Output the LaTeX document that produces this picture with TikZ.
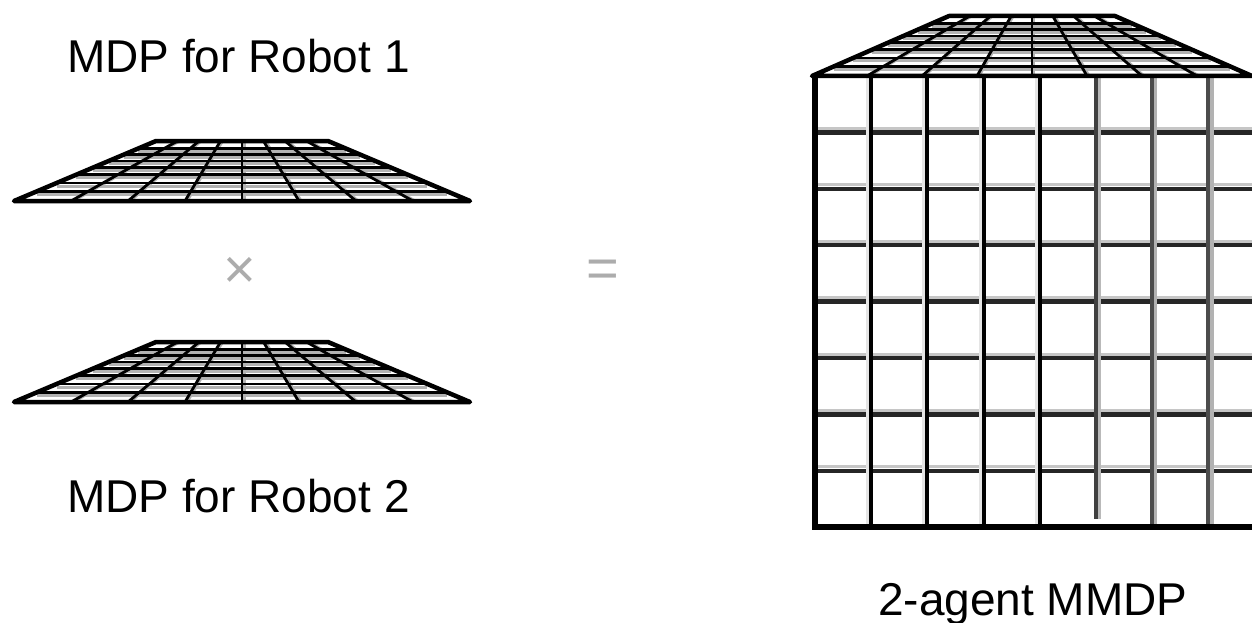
\documentclass[tikz,border=0pt]{standalone}
\usepackage{fontspec}
\setmainfont{Liberation Sans}
\usepackage{tikz}
\usetikzlibrary{positioning}

\tikzset{
  gridline/.style={line width=2.8pt, black},
  gridshade/.style={line width=3pt, gray!60},
  edgeline/.style={line width=4.5pt, black, line join=round},
  bigrow/.style={line width=4.5pt, black!85},
  bigshade/.style={line width=3pt, gray!45},
  bigcol/.style={line width=4pt, black},
  bigedge/.style={line width=6pt, black},
  label/.style={font=\fontsize{46}{52}\selectfont, anchor=base west, inner sep=0pt},
  opsym/.style={font=\fontsize{56}{60}\selectfont, text=gray!65, inner sep=0pt},
  pics/flatgrid/.style={code={
    % gray bands under the rows
    \foreach \f in {0.164,0.30,0.437,0.557,0.667,0.776,0.874}
      \draw[gridshade] ({-228+142*\f},{-60*\f+3}) -- ({228-142*\f},{-60*\f+3});
    \foreach \i in {1,...,7}
      \draw[gridshade] ({-226+57*\i},0) -- ({-84+21.5*\i},-60);
    % rows and columns
    \foreach \f in {0.164,0.30,0.437,0.557,0.667,0.776,0.874}
      \draw[gridline] ({-228+142*\f},{-60*\f}) -- ({228-142*\f},{-60*\f});
    \foreach \i in {1,...,7}
      \draw[gridline] ({-228+57*\i},0) -- ({-86+21.5*\i},-60);
    % outline
    \draw[edgeline] (-228,0) -- (-86,-60) -- (86,-60) -- (228,0) -- cycle;
  }}
}

\begin{document}
\begin{tikzpicture}[x=1pt, y=-1pt]
  \useasboundingbox (0,0) rectangle (1252,623);

  % Labels
  \node[label] (lbl1) at (67,73) {MDP for Robot 1};
  \node[label] (lbl2) at (67,512) {MDP for Robot 2};
  \node[label] (lblm) at (878,615) {2-agent MMDP};

  % Two flat grids
  \pic at (242,201) {flatgrid};
  \pic at (242,402) {flatgrid};

  % Product and equals signs
  \node[opsym] (times) at (240,273) {×};
  \node[opsym] (equals) at (603,274) {=};

  % Joint grid
  \foreach \j in {1,...,7}
    \draw[bigshade] (815,{76+56.4*\j-4}) -- (1265,{76+56.4*\j-4});
  \foreach \j in {1,...,7}
    \draw[bigrow] (815,{76+56.4*\j}) -- (1265,{76+56.4*\j});
  \foreach \i in {1,...,4} {
    \draw[line width=3pt, gray!20] ({815+56.2*\i-3.5},76) -- ({815+56.2*\i-3.5},527);
    \draw[bigcol] ({815+56.2*\i},76) -- ({815+56.2*\i},527);
  }
  \foreach \i in {6,7} {
    \draw[line width=3.5pt, gray!60] ({815+56.2*\i+3.5},76) -- ({815+56.2*\i+3.5},527);
    \draw[bigcol, black!70] ({815+56.2*\i},76) -- ({815+56.2*\i},527);
  }
  \draw[line width=3.5pt, gray!55] (1099.5,76) -- (1099.5,519);
  \draw[bigcol, black!75] (1096,76) -- (1096,519);
  \draw[bigedge] (815,76) -- (815,527) -- (1265,527);

  % Flat grid on top of the joint one
  \pic[xscale=0.965] at (1032,76) {flatgrid};
\end{tikzpicture}
\end{document}
